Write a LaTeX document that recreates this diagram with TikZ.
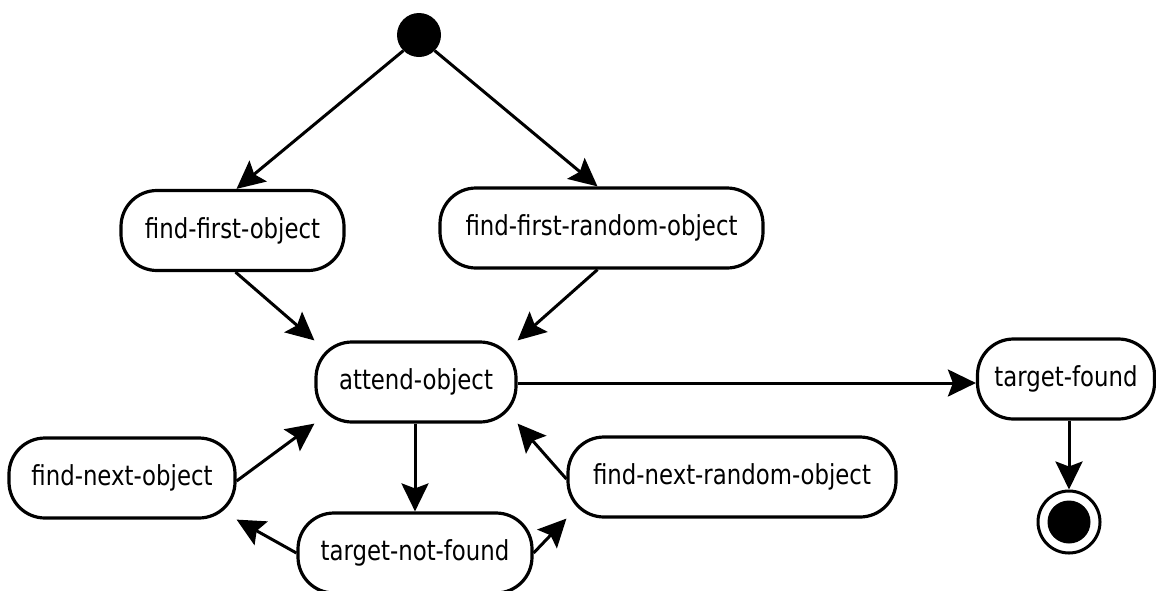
\documentclass[tikz,border=0pt]{standalone}
\usepackage{fontspec}
\newfontfamily\statefont{DejaVu Sans}[FakeStretch=0.83]
\usetikzlibrary{arrows.meta}

\tikzset{
  activity/.style={draw, line width=3.2pt, rounded corners=36pt, inner sep=0pt,
    minimum height=80pt, font=\statefont\fontsize{27.5}{33}\selectfont},
  flow/.style={line width=3pt, -{Stealth[length=28pt, width=27pt, inset=5pt]}},
  initial/.style={circle, fill, inner sep=0pt, minimum size=44pt},
  final/.style={circle, draw, line width=3pt, inner sep=0pt, minimum size=62pt}
}

\begin{document}
\begin{tikzpicture}[x=1pt, y=-1pt]
  \useasboundingbox (0,0) rectangle (1156,590);

  % states
  \node[initial] (start) at (419,35) {};
  \node[activity, minimum width=223pt] (ffo)    at (232.5,230.5) {find-first-object};
  \node[activity, minimum width=323pt] (ffr)    at (601.5,228)   {find-first-random-object};
  \node[activity, minimum width=200pt] (attend) at (416,382)     {attend-object};
  \node[activity, minimum width=177pt] (tf)     at (1066,379)    {target-found};
  \node[activity, minimum width=226pt] (fno)    at (122,478)     {find-next-object};
  \node[activity, minimum width=328pt] (fnr)    at (732,477)     {find-next-random-object};
  \node[activity, minimum width=234pt] (tnf)    at (415,553)     {target-not-found};
  \node[final] (end) at (1069,522) {};
  \fill (end.center) circle (21.5);

  % transitions
  \draw[flow] (start.south west) -- ([xshift=4pt]ffo.north);
  \draw[flow] (start.south east) -- ([xshift=-4pt]ffr.north);
  \draw[flow] ([xshift=3pt]ffo.south) -- (attend.north west);
  \draw[flow] ([xshift=-4pt]ffr.south) -- (attend.north east);
  \draw[flow] ([yshift=-1pt]attend.east) -- ([yshift=-1pt]attend.east -| tf.west);
  \draw[flow] (tf.south -| end.north) -- (end.north);
  \draw[flow] (attend.south -| tnf.north) -- (tnf.north);
  \draw[flow] (tnf.west) -- (fno.south east);
  \draw[flow] (tnf.east) -- (fnr.south west);
  \draw[flow] ([yshift=-3pt]fno.east) -- (attend.south west);
  \draw[flow] ([yshift=-2pt]fnr.west) -- (attend.south east);
\end{tikzpicture}
\end{document}
